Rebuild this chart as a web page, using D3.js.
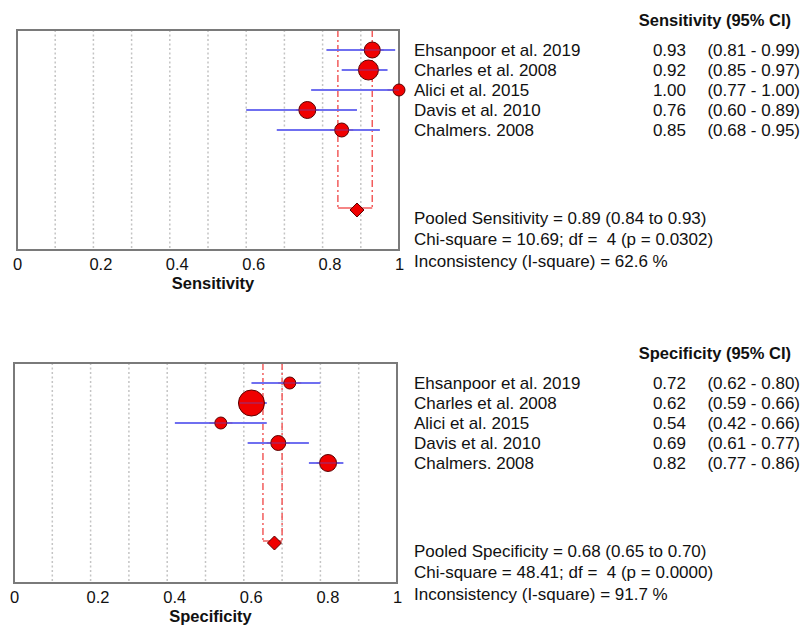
<!DOCTYPE html>
<html>
<head>
<meta charset="utf-8">
<script src="https://cdn.jsdelivr.net/npm/d3@7"></script>
<style>
  body { margin: 0; background: #fff; }
  text { font-family: Arial, "Liberation Sans", sans-serif; fill: #111; }
</style>
</head>
<body>
<div id="container"></div>
<script>
//DATA
const studies = ["Ehsanpoor et al. 2019", "Charles et al. 2008", "Alici et al. 2015", "Davis et al. 2010", "Chalmers. 2008"];

const sensEst = [0.93, 0.92, 1.00, 0.76, 0.85];
const sensLo = [0.81, 0.85, 0.77, 0.60, 0.68];
const sensHi = [0.99, 0.97, 1.00, 0.89, 0.95];
const sensWeight = [64, 100, 36, 72, 49]; // marker size
const sensPooled = [0.89, 0.84, 0.93];
const sensChi = [10.69, 4, "0.0302", 62.6];

const specEst = [0.72, 0.62, 0.54, 0.69, 0.82];
const specLo = [0.62, 0.59, 0.42, 0.61, 0.77];
const specHi = [0.80, 0.66, 0.66, 0.77, 0.86];
const specWeight = [36, 169, 36, 56, 72];
const specPooled = [0.68, 0.65, 0.70];
const specChi = [48.41, 4, "0.0000", 91.7];

const tickLabels = [0, 0.2, 0.4, 0.6, 0.8, 1];
const gridValues = [0.1, 0.2, 0.3, 0.4, 0.5, 0.6, 0.7, 0.8, 0.9];

//SVG
const width = 808, height = 625;

const svg = d3.select("#container")
  .append("svg")
  .attr("width", width)
  .attr("height", height);

const f2 = d3.format(".2f");

// one size scale for both panels
const rScale = d3.scaleSqrt().domain([0, 169]).range([0, 13]);

function drawPanel(p) {
  const xScale = d3.scaleLinear().domain([0, 1]).range([p.left, p.right]);
  // rows sit on 1..5, pooled diamond on 9
  const yScale = d3.scaleLinear().domain([0, 11]).range([p.top, p.top + 220]);

  const g = svg.append("g");

  // dotted grid
  g.selectAll("line.grid")
    .data(gridValues)
    .join("line")
    .attr("class", "grid")
    .attr("x1", d => xScale(d)).attr("x2", d => xScale(d))
    .attr("y1", yScale(0)).attr("y2", yScale(11))
    .attr("stroke", "#c4c4c4")
    .attr("stroke-width", 1.5)
    .attr("stroke-dasharray", "2,2.5");

  // pooled CI dashed lines + bracket
  const yb = yScale(9) - 2;
  g.selectAll("line.pool")
    .data([p.pooled[1], p.pooled[2]])
    .join("line")
    .attr("class", "pool")
    .attr("x1", d => xScale(d)).attr("x2", d => xScale(d))
    .attr("y1", yScale(0)).attr("y2", yb)
    .attr("stroke", "#f25c5c")
    .attr("stroke-width", 1.5)
    .attr("stroke-dasharray", "7,3,2,3");
  g.append("line")
    .attr("x1", xScale(p.pooled[1])).attr("x2", xScale(p.pooled[2]))
    .attr("y1", yb).attr("y2", yb)
    .attr("stroke", "#f25c5c")
    .attr("stroke-width", 1.5);

  // box
  g.append("rect")
    .attr("x", p.left).attr("y", yScale(0))
    .attr("width", p.right - p.left).attr("height", yScale(11) - yScale(0))
    .attr("fill", "none")
    .attr("stroke", "#7a7a7a")
    .attr("stroke-width", 2);

  const rows = studies.map((s, i) => ({
    name: s, est: p.est[i], lo: p.lo[i], hi: p.hi[i], w: p.weight[i], row: i + 1
  }));

  // CI lines
  g.selectAll("line.ci")
    .data(rows)
    .join("line")
    .attr("class", "ci")
    .attr("x1", d => xScale(d.lo)).attr("x2", d => xScale(d.hi))
    .attr("y1", d => yScale(d.row)).attr("y2", d => yScale(d.row))
    .attr("stroke", "#6f6ff0")
    .attr("stroke-width", 2);

  // study markers
  g.selectAll("circle")
    .data(rows)
    .join("circle")
    .attr("cx", d => xScale(d.est))
    .attr("cy", d => yScale(d.row))
    .attr("r", d => rScale(d.w))
    .attr("fill", "#f00000")
    .attr("stroke", "#5a0000")
    .attr("stroke-width", 1);

  // line through the marker (drawn on top like the original)
  g.selectAll("line.ci2")
    .data(rows)
    .join("line")
    .attr("class", "ci2")
    .attr("x1", d => xScale(Math.max(d.lo, d.est - 0.03))).attr("x2", d => xScale(Math.min(d.hi, d.est + 0.03)))
    .attr("y1", d => yScale(d.row)).attr("y2", d => yScale(d.row))
    .attr("stroke", "#6f3fb0")
    .attr("stroke-opacity", 0.5)
    .attr("stroke-width", 1.5);

  // pooled diamond
  const cx = xScale(p.pooled[0]), cy = yScale(9);
  g.append("path")
    .attr("d", `M${cx - 7},${cy} L${cx},${cy - 7} L${cx + 7},${cy} L${cx},${cy + 7} Z`)
    .attr("fill", "#f00000")
    .attr("stroke", "#5a0000")
    .attr("stroke-width", 1);

  // x axis
  const xAxis = d3.axisBottom(xScale)
    .tickValues(tickLabels)
    .tickSize(0)
    .tickFormat(d => d3.format("")(d));
  const ax = g.append("g")
    .attr("transform", `translate(0,${yScale(11) + 5})`)
    .call(xAxis);
  ax.select(".domain").remove();
  ax.selectAll("text")
    .attr("text-anchor", "start")
    .attr("dx", -4.5)
    .style("font-size", "16.5px")
    .style("font-family", "Arial, 'Liberation Sans', sans-serif")
    .attr("fill", "#1a1a1a");

  g.append("text")
    .attr("x", (p.left + p.right) / 2 + 5)
    .attr("y", yScale(11) + 33)
    .attr("text-anchor", "middle")
    .attr("dy", "0.35em")
    .style("font-size", "16.5px")
    .style("font-weight", "bold")
    .text(p.title);

  // right hand table
  g.append("text")
    .attr("x", 791).attr("y", yScale(0) - 10)
    .attr("dy", "0.35em")
    .attr("text-anchor", "end")
    .style("font-size", "16.5px")
    .style("font-weight", "bold")
    .text(p.title + " (95% CI)");

  const rowsText = g.selectAll("g.rowtext")
    .data(rows)
    .join("g")
    .attr("class", "rowtext")
    .attr("transform", d => `translate(0,${yScale(d.row)})`)
    .style("font-size", "17px");
  rowsText.append("text").attr("x", 414).attr("dy", "0.35em").text(d => d.name);
  rowsText.append("text").attr("x", 686).attr("dy", "0.35em").attr("text-anchor", "end").text(d => f2(d.est));
  rowsText.append("text").attr("x", 800).attr("dy", "0.35em").attr("text-anchor", "end")
    .text(d => `(${f2(d.lo)} - ${f2(d.hi)})`);

  const stats = [
    `Pooled ${p.title} = ${f2(p.pooled[0])} (${f2(p.pooled[1])} to ${f2(p.pooled[2])})`,
    `Chi-square = ${f2(p.chi[0])}; df =  ${p.chi[1]} (p = ${p.chi[2]})`,
    `Inconsistency (I-square) = ${p.chi[3]} %`
  ];
  g.selectAll("text.stat")
    .data(stats)
    .join("text")
    .attr("class", "stat")
    .attr("x", 414)
    .attr("y", (d, i) => yScale(0) + 188 + i * 21.5)
    .attr("dy", "0.35em")
    .style("font-size", "17px")
    .style("white-space", "pre")
    .text(d => d);
}

drawPanel({
  title: "Sensitivity", left: 17, right: 399, top: 30,
  est: sensEst, lo: sensLo, hi: sensHi, weight: sensWeight, pooled: sensPooled, chi: sensChi
});
drawPanel({
  title: "Specificity", left: 14, right: 397, top: 363,
  est: specEst, lo: specLo, hi: specHi, weight: specWeight, pooled: specPooled, chi: specChi
});
</script>
</body>
</html>
